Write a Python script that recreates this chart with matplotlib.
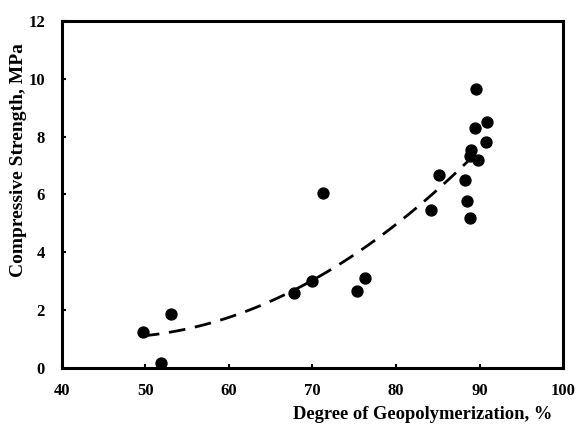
import numpy as np
import matplotlib
matplotlib.use("Agg")
import matplotlib.pyplot as plt

# degree of geopolymerization (%) and compressive strength (MPa)
degree = [49.7, 51.9, 53.1, 67.8, 70.0, 71.3, 75.3, 76.3, 84.2, 85.2,
          88.2, 88.5, 88.8, 88.8, 89.0, 89.4, 89.6, 89.8, 90.8, 90.9]
strength = [1.24, 0.17, 1.87, 2.59, 3.02, 6.06, 2.65, 3.10, 5.48, 6.68,
            6.49, 5.77, 5.17, 7.34, 7.53, 8.30, 9.65, 7.18, 7.83, 8.50]

plt.rcParams['font.family'] = ['Liberation Serif', 'DejaVu Serif']
plt.rcParams['font.weight'] = 'bold'

fig = plt.figure(figsize=(5.77, 4.26), dpi=100)
ax = fig.add_axes([0.107, 0.136, 0.869, 0.815])

ax.scatter(degree, strength, s=62, color='black', zorder=3)

# second order trend line
coef = np.polyfit(degree, strength, 2)
xs = np.linspace(min(degree), 89.6, 100)
ax.plot(xs, np.polyval(coef, xs), color='black', lw=2, dashes=(6, 3.5))

ax.set_xlim(40, 100)
ax.set_ylim(0, 12)
ax.set_xticks(range(40, 101, 10))
ax.set_yticks(range(0, 13, 2))
ax.tick_params(direction='in', length=3, width=1.5, labelsize=12)
ax.tick_params(axis='x', pad=11)
ax.tick_params(axis='y', pad=12)
for s in ax.spines.values():
    s.set_linewidth(2.2)

ax.set_xlabel('Degree of Geopolymerization, %', fontsize=13.3, fontweight='bold')
ax.xaxis.set_label_coords(0.72, -0.11)
ax.set_ylabel('Compressive Strength, MPa', fontsize=14, fontweight='bold')
ax.yaxis.set_label_coords(-0.07, 0.6)

fig.savefig('out.png', dpi=100)
